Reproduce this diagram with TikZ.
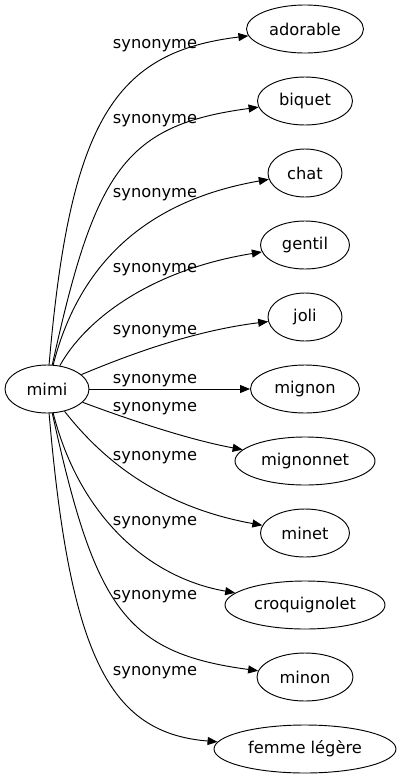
\documentclass[tikz,border=0pt]{standalone}
\usepackage{fontspec}
\setmainfont{DejaVu Sans}
\usetikzlibrary{shapes.geometric,arrows.meta}

\begin{document}
\begin{tikzpicture}[x=0.75pt,y=-0.75pt,
  >={Triangle[length=7.5pt,width=6pt]},
  word/.style={draw, ellipse, line width=0.7pt, inner sep=0pt, minimum height=36pt,
    font=\fontsize{12.2}{14}\selectfont},
  rel/.style={font=\fontsize{12.2}{14}\selectfont},
  link/.style={->, line width=0.7pt}]
  \useasboundingbox (0,0) rectangle (401,779);
  % source word
  \node[word, minimum width=63pt] (mimi) at (47,389) {mimi};
  % synonyms
  \node[word, minimum width=87.75pt] (adorable) at (305,29) {adorable};
  \node[word, minimum width=71.25pt] (biquet) at (305,101) {biquet};
  \node[word, minimum width=55.5pt] (chat) at (305,173) {chat};
  \node[word, minimum width=66.75pt] (gentil) at (305,245) {gentil};
  \node[word, minimum width=55.5pt] (joli) at (305,317) {joli};
  \node[word, minimum width=81.75pt] (mignon) at (305,389) {mignon};
  \node[word, minimum width=105pt] (mignonnet) at (305,461) {mignonnet};
  \node[word, minimum width=66.75pt] (minet) at (305,533) {minet};
  \node[word, minimum width=120pt] (croquignolet) at (305,605) {croquignolet};
  \node[word, minimum width=72pt] (minon) at (305,677) {minon};
  \node[word, minimum width=136.5pt] (femme) at (305,749) {femme légère};
  % links
  \draw[link] (mimi) .. controls (70,120) and (115,52) .. (adorable);
  \draw[link] (mimi) .. controls (95,170) and (125,125) .. (biquet);
  \draw[link] (mimi) .. controls (80,260) and (150,200) .. (chat);
  \draw[link] (mimi) .. controls (85,320) and (150,270) .. (gentil);
  \draw[link] (mimi) .. controls (140,350) and (200,330) .. (joli);
  \draw[link] (mimi) -- (mignon);
  \draw[link] (mimi) .. controls (130,420) and (190,440) .. (mignonnet);
  \draw[link] (mimi) .. controls (95,450) and (150,505) .. (minet);
  \draw[link] (mimi) .. controls (80,518) and (150,578) .. (croquignolet);
  \draw[link] (mimi) .. controls (95,608) and (125,653) .. (minon);
  \draw[link] (mimi) .. controls (70,658) and (110,733) .. (femme);
  % labels
  \node[rel] (l1) at (155,46) {synonyme};
  \node[rel] (l2) at (155,121) {synonyme};
  \node[rel] (l3) at (155,195) {synonyme};
  \node[rel] (l4) at (155,270) {synonyme};
  \node[rel] (l5) at (155,332) {synonyme};
  \node[rel] (l6) at (155,381) {synonyme};
  \node[rel] (l7) at (155,409) {synonyme};
  \node[rel] (l8) at (155,458) {synonyme};
  \node[rel] (l9) at (155,523) {synonyme};
  \node[rel] (l10) at (155,597) {synonyme};
  \node[rel] (l11) at (155,673) {synonyme};
\end{tikzpicture}
\end{document}
